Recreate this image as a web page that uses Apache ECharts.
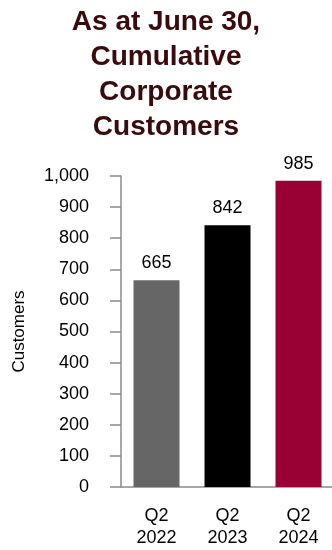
<!DOCTYPE html>
<html>
<head>
<meta charset="utf-8">
<script src="https://cdn.jsdelivr.net/npm/echarts@6/dist/echarts.min.js"></script>
<style>
  html, body { margin: 0; padding: 0; background: #fff; }
  #chart { width: 332px; height: 550px; }
</style>
</head>
<body>
<div id="chart"></div>
<script>
// Cumulative corporate customers at the end of each second quarter
const categories = ['Q2\n2022', 'Q2\n2023', 'Q2\n2024'];
const customers = [665, 842, 985];
const barColors = ['#666666', '#000000', '#990033'];
const yTicks = { min: 0, max: 1000, interval: 100 };

const FONT = '"Liberation Sans", Arial, Helvetica, sans-serif';
const AXIS_GREY = '#8a8a8a';

const chart = echarts.init(document.getElementById('chart'), null, { renderer: 'canvas' });

chart.setOption({
  animation: false,
  backgroundColor: '#ffffff',
  title: {
    text: 'As at June 30,\nCumulative\nCorporate\nCustomers',
    left: 'center',
    top: 0,
    textStyle: {
      fontFamily: FONT,
      fontSize: 28,
      fontWeight: 'bold',
      color: '#3b0a0c',
      lineHeight: 35
    }
  },
  grid: {
    left: 121, top: 176, bottom: 63, width: 213,
    containLabel: false,
    outerBoundsMode: 'none'
  },
  xAxis: {
    type: 'category',
    data: categories,
    axisLine: { lineStyle: { color: AXIS_GREY, width: 1.5 } },
    axisTick: { alignWithLabel: true, length: 10, lineStyle: { color: AXIS_GREY, width: 1.5 } },
    axisLabel: {
      fontFamily: FONT,
      fontSize: 18,
      color: '#000',
      lineHeight: 22,
      margin: 18
    }
  },
  yAxis: {
    type: 'value',
    min: yTicks.min,
    max: yTicks.max,
    interval: yTicks.interval,
    name: 'Customers',
    nameLocation: 'middle',
    nameRotate: 90,
    nameGap: 93,
    nameMoveOverlap: false,
    nameTextStyle: { fontFamily: FONT, fontSize: 17, color: '#000' },
    splitLine: { show: false },
    axisLine: { show: true, lineStyle: { color: AXIS_GREY, width: 1.5 } },
    axisTick: { show: true, inside: false, length: 11, lineStyle: { color: AXIS_GREY, width: 1.5 } },
    axisLabel: {
      fontFamily: FONT,
      fontSize: 18,
      color: '#000',
      margin: 32,
      formatter: v => v.toLocaleString('en-US')
    }
  },
  series: [{
    type: 'bar',
    barWidth: 46,
    data: customers.map((v, i) => ({ value: v, itemStyle: { color: barColors[i] } })),
    label: {
      show: true,
      position: 'top',
      distance: 8,
      fontFamily: FONT,
      fontSize: 18,
      color: '#000'
    }
  }]
});
</script>
</body>
</html>
